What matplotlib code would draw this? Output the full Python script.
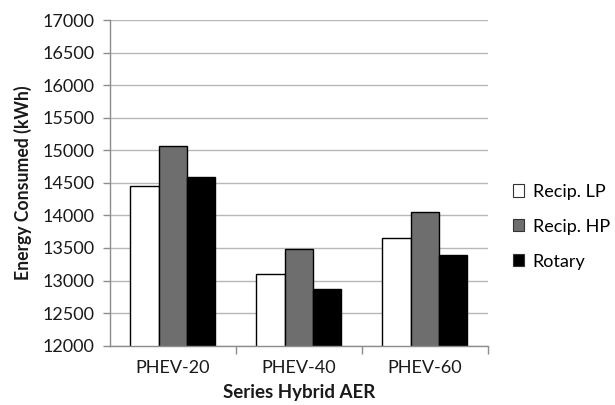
import matplotlib
matplotlib.use("Agg")
import matplotlib.pyplot as plt
import numpy as np
from matplotlib.patches import Patch

categories = ["PHEV-20", "PHEV-40", "PHEV-60"]
series_names = ["Recip. LP", "Recip. HP", "Rotary"]
recip_lp = [14450, 13100, 13650]
recip_hp = [15060, 13490, 14050]
rotary = [14590, 12875, 13400]
y_ticks = [12000, 12500, 13000, 13500, 14000, 14500, 15000, 15500, 16000, 16500, 17000]

plt.rcParams["font.family"] = ["Lato", "DejaVu Sans"]

fig = plt.figure(figsize=(6.15, 4.05), dpi=100)
ax = fig.add_axes([0.1789, 0.1464, 0.6141, 0.8042])

x = np.arange(len(categories))
width = 0.225
colors = ["white", "#6e6e6e", "black"]
for i, (vals, col) in enumerate(zip([recip_lp, recip_hp, rotary], colors)):
    ax.bar(x + (i - 1) * width, vals, width, bottom=0, color=col,
           edgecolor="black", linewidth=1.0, zorder=3)

ax.set_xlim(-0.5, 2.5)
ax.set_ylim(12000, 17000)
ax.set_yticks(y_ticks)
ax.set_yticklabels([str(v) for v in y_ticks], fontsize=13, color="#1a1a1a")
ax.yaxis.grid(True, color="#b8b8b8", linewidth=1.0, zorder=0)

ax.set_xticks(x)
ax.set_xticklabels(categories, fontsize=13, color="#1a1a1a")
ax.tick_params(axis="x", which="major", length=0, pad=10)
ax.set_xticks([0.5, 1.5, 2.5], minor=True)
ax.tick_params(axis="x", which="minor", length=6, color="#8c8c8c", width=1)
ax.tick_params(axis="y", length=5, color="#8c8c8c", width=1, pad=6)

for side in ["top", "right"]:
    ax.spines[side].set_visible(False)
for side in ["left", "bottom"]:
    ax.spines[side].set_color("#8c8c8c")
    ax.spines[side].set_linewidth(1.0)
    ax.spines[side].set_zorder(4)

ax.set_ylabel("Energy Consumed (kWh)", fontsize=12.7, fontweight="bold",
              color="#1a1a1a", labelpad=8)
ax.set_xlabel("Series Hybrid AER", fontsize=13.5, fontweight="bold",
              color="#1a1a1a", labelpad=6)

handles = [Patch(facecolor=c, edgecolor="#333333", linewidth=0.8) for c in colors]
fig.legend(handles, series_names, loc="center left",
           bbox_to_anchor=(0.822, 0.44), frameon=False, fontsize=13,
           handlelength=0.65, handleheight=0.65, handletextpad=0.45,
           labelspacing=1.05, borderaxespad=0)

fig.savefig("out.png", dpi=100)
